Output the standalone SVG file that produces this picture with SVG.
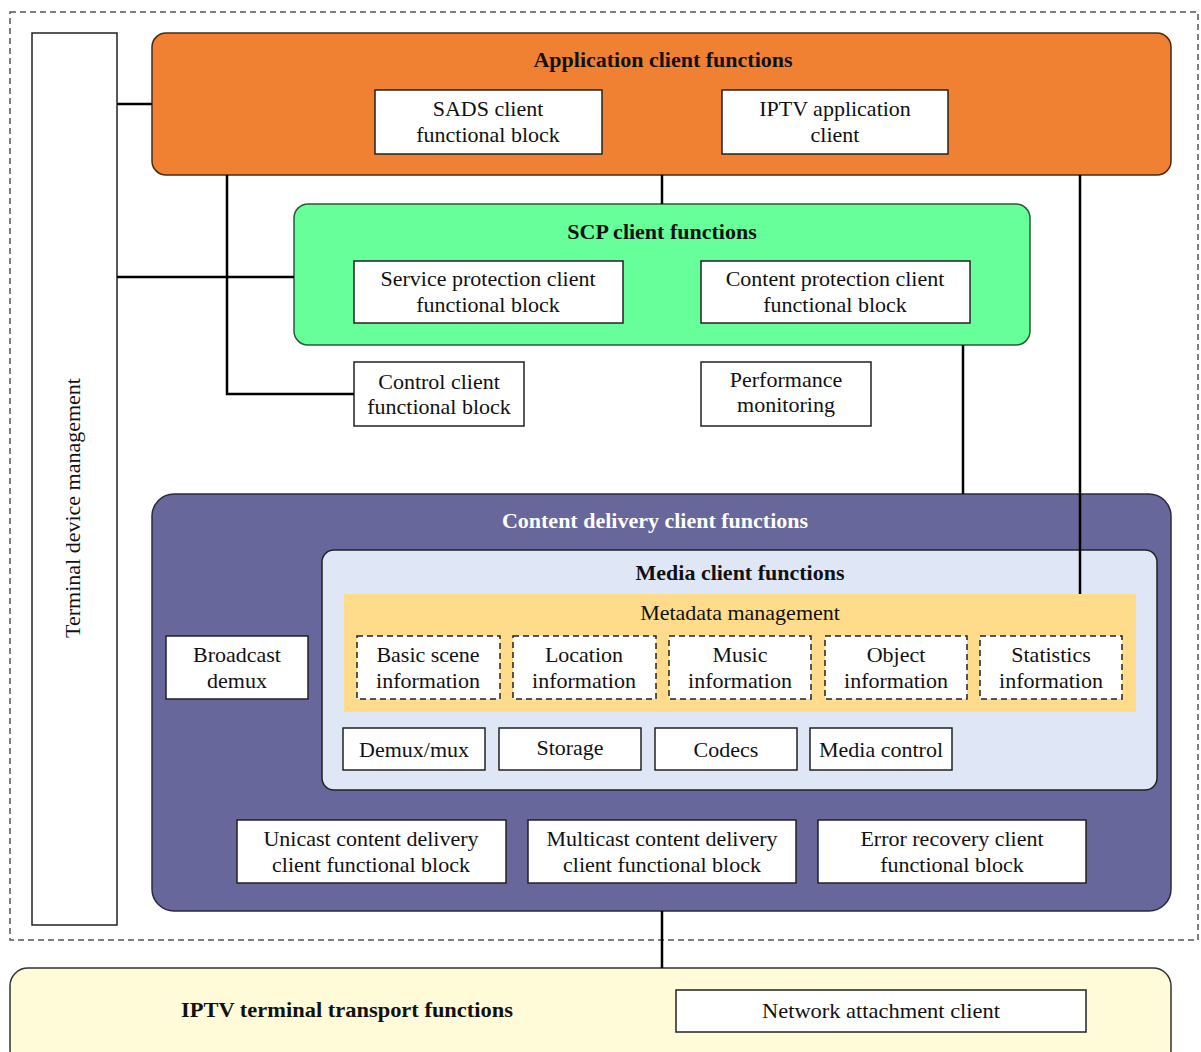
<svg xmlns="http://www.w3.org/2000/svg" width="1201" height="1052" viewBox="0 0 1201 1052">
<style>
text{font-family:"Liberation Serif","Times New Roman",serif;font-size:22px;fill:#111;text-anchor:middle}
.b{font-weight:bold}
.w{fill:#fff}
.box{fill:#fff;stroke:#222;stroke-width:1.5}
.dbox{fill:#fff;stroke:#222;stroke-width:1.5;stroke-dasharray:6,4}
.ln{stroke:#000;stroke-width:2.5;fill:none}
</style>
<rect width="1201" height="1052" fill="#fff"/>
<rect x="10" y="12" width="1188" height="928" fill="none" stroke="#555" stroke-width="1.5" stroke-dasharray="6,4"/>

<g id="terminal-device-management">
<rect class="box" x="32" y="33" width="85" height="892"/>
<text transform="translate(80 508) rotate(-90)">Terminal device management</text>
</g>

<g id="application-client-functions">
<rect x="152" y="33" width="1019" height="142" rx="14" fill="#F08132" stroke="#4a2a10" stroke-width="1.5"/>
<text class="b" x="663" y="67">Application client functions</text>
</g>
<g id="sads-client">
<rect class="box" x="375" y="90" width="227" height="64"/>
<text x="488" y="116">SADS client</text>
<text x="488" y="142">functional block</text>
</g>
<g id="iptv-application-client">
<rect class="box" x="722" y="90" width="226" height="64"/>
<text x="835" y="116">IPTV application</text>
<text x="835" y="142">client</text>
</g>

<g id="scp-client-functions">
<rect x="294" y="204" width="736" height="141" rx="14" fill="#66FF99" stroke="#2a5a3a" stroke-width="1.5"/>
<text class="b" x="662" y="239">SCP client functions</text>
</g>
<g id="service-protection">
<rect class="box" x="354" y="261" width="269" height="62"/>
<text x="488" y="286">Service protection client</text>
<text x="488" y="312">functional block</text>
</g>
<g id="content-protection">
<rect class="box" x="701" y="261" width="269" height="62"/>
<text x="835" y="286">Content protection client</text>
<text x="835" y="312">functional block</text>
</g>

<g id="control-client">
<rect class="box" x="354" y="362" width="170" height="64"/>
<text x="439" y="389">Control client</text>
<text x="439" y="414">functional block</text>
</g>
<g id="performance-monitoring">
<rect class="box" x="701" y="362" width="170" height="64"/>
<text x="786" y="387">Performance</text>
<text x="786" y="412">monitoring</text>
</g>

<g id="content-delivery-client-functions">
<rect x="152" y="494" width="1019" height="417" rx="22" fill="#67679B" stroke="#2a2a44" stroke-width="1.5"/>
<text class="b w" x="655" y="528">Content delivery client functions</text>
</g>
<g id="broadcast-demux">
<rect class="box" x="166" y="636" width="142" height="63"/>
<text x="237" y="662">Broadcast</text>
<text x="237" y="688">demux</text>
</g>

<g id="media-client-functions">
<rect x="322" y="550" width="835" height="240" rx="12" fill="#DFE7F7" stroke="#222" stroke-width="1.5"/>
<text class="b" x="740" y="580">Media client functions</text>
</g>
<g id="metadata-management">
<rect x="344" y="594" width="792" height="118" fill="#FFDB8C"/>
<text x="740" y="620">Metadata management</text>
</g>
<g id="basic-scene">
<rect class="dbox" x="357" y="636" width="143" height="63"/>
<text x="428" y="662">Basic scene</text>
<text x="428" y="688">information</text>
</g>
<g id="location">
<rect class="dbox" x="513" y="636" width="143" height="63"/>
<text x="584" y="662">Location</text>
<text x="584" y="688">information</text>
</g>
<g id="music">
<rect class="dbox" x="669" y="636" width="142" height="63"/>
<text x="740" y="662">Music</text>
<text x="740" y="688">information</text>
</g>
<g id="object">
<rect class="dbox" x="825" y="636" width="142" height="63"/>
<text x="896" y="662">Object</text>
<text x="896" y="688">information</text>
</g>
<g id="statistics">
<rect class="dbox" x="980" y="636" width="142" height="63"/>
<text x="1051" y="662">Statistics</text>
<text x="1051" y="688">information</text>
</g>
<g id="demux-mux">
<rect class="box" x="343" y="728" width="142" height="42"/>
<text x="414" y="757">Demux/mux</text>
</g>
<g id="storage">
<rect class="box" x="499" y="728" width="142" height="42"/>
<text x="570" y="755">Storage</text>
</g>
<g id="codecs">
<rect class="box" x="655" y="728" width="142" height="42"/>
<text x="726" y="757">Codecs</text>
</g>
<g id="media-control">
<rect class="box" x="810" y="728" width="142" height="42"/>
<text x="881" y="757">Media control</text>
</g>

<g id="unicast">
<rect class="box" x="237" y="820" width="269" height="63"/>
<text x="371" y="846">Unicast content delivery</text>
<text x="371" y="872">client functional block</text>
</g>
<g id="multicast">
<rect class="box" x="528" y="820" width="268" height="63"/>
<text x="662" y="846">Multicast content delivery</text>
<text x="662" y="872">client functional block</text>
</g>
<g id="error-recovery">
<rect class="box" x="818" y="820" width="268" height="63"/>
<text x="952" y="846">Error recovery client</text>
<text x="952" y="872">functional block</text>
</g>

<g id="iptv-terminal-transport-functions">
<rect x="10" y="968" width="1161" height="100" rx="18" fill="#FFFBD9" stroke="#333" stroke-width="1.5"/>
<text class="b" x="347" y="1017" textLength="332" lengthAdjust="spacingAndGlyphs">IPTV terminal transport functions</text>
</g>
<g id="network-attachment-client">
<rect class="box" x="676" y="990" width="410" height="42"/>
<text x="881" y="1018" textLength="238" lengthAdjust="spacingAndGlyphs">Network attachment client</text>
</g>

<g id="connectors">
<path class="ln" d="M117 104H152"/>
<path class="ln" d="M117 277H294"/>
<path class="ln" d="M227 175V394H354"/>
<path class="ln" d="M662 175V204"/>
<path class="ln" d="M1080 175V594"/>
<path class="ln" d="M963 345V494"/>
<path class="ln" d="M662 911V968"/>
</g>
</svg>
